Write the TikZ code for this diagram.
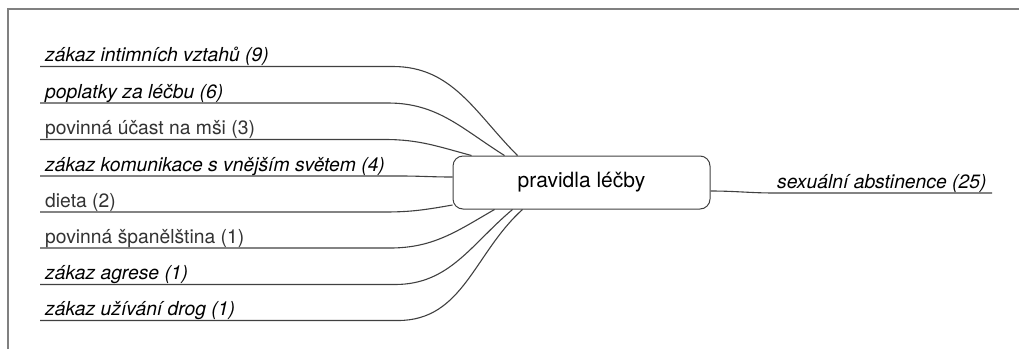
\documentclass[tikz,border=0pt]{standalone}
\usepackage{fontspec}
\setmainfont{TeX Gyre Heros}
\begin{document}
\begin{tikzpicture}[x=1pt,y=-1pt,
  lbl/.style={anchor=base west,inner sep=0pt,font=\fontsize{19.3}{22}\selectfont},
  lblit/.style={lbl,font=\fontsize{19.3}{22}\selectfont\itshape,text=black},
  lblrg/.style={lbl,text=black!80},
  link/.style={line width=1.1pt,draw=black!75},
  rootbox/.style={draw=black!75,line width=1pt,rounded corners=10pt,minimum width=257pt,minimum height=53pt,inner sep=0pt,font=\fontsize{21}{24}\selectfont},
  frame/.style={draw=black!50,line width=2pt}]
\useasboundingbox (0,0) rectangle (1019,349);
\draw[frame] (8,349) -- (8,9) -- (1019,9);
\node[rootbox] (root) at (581.5,182.5) {pravidla léčby};
% left branches
\node[lblit] (b1) at (45,61) {zákaz intimních vztahů (9)};
\node[lblit] (b2) at (45,98) {poplatky za léčbu (6)};
\node[lblrg] (b3) at (45,134) {povinná účast na mši (3)};
\node[lblit] (b4) at (45,171) {zákaz komunikace s vnějším světem (4)};
\node[lblrg] (b5) at (45,207) {dieta (2)};
\node[lblrg] (b6) at (45,243) {povinná španělština (1)};
\node[lblit] (b7) at (45,279) {zákaz agrese (1)};
\node[lblit] (b8) at (45,315) {zákaz užívání drog (1)};
\coordinate (s1) at (40,66.5);  \coordinate (k1) at (393,66.5);
\coordinate (s2) at (40,103);   \coordinate (k2) at (388,103);
\coordinate (s3) at (40,139.5); \coordinate (k3) at (385,139.5);
\coordinate (s4) at (40,176);   \coordinate (k4) at (400,176);
\coordinate (s5) at (40,212);   \coordinate (k5) at (385,212);
\coordinate (s6) at (40,248);   \coordinate (k6) at (390,248);
\coordinate (s7) at (40,284.5); \coordinate (k7) at (395,284.5);
\coordinate (s8) at (40,320.5); \coordinate (k8) at (398,320.5);
\draw[link] (s1) -- (k1) to[out=0,in=135] ([xshift=65pt]root.north west);
\draw[link] (s2) -- (k2) to[out=0,in=148] ([xshift=52pt]root.north west);
\draw[link] (s3) -- (k3) to[out=0,in=165] ([xshift=19pt]root.north west);
\draw[link] (s4) -- (k4) to[out=0,in=180] ([yshift=5.5pt]root.west);
\draw[link] (s5) -- (k5) to[out=0,in=190] ([yshift=-22.5pt]root.west);
\draw[link] (s6) -- (k6) to[out=0,in=210] ([xshift=42pt]root.south west);
\draw[link] (s7) -- (k7) to[out=0,in=220] ([xshift=60pt]root.south west);
\draw[link] (s8) -- (k8) to[out=0,in=222] ([xshift=70pt]root.south west);
% right branch
\node[lblit] (r1) at (777,188) {sexuální abstinence (25)};
\coordinate (rk) at (775,193);
\coordinate (re) at (992,193);
\draw[link] ([yshift=-8.5pt]root.east) to[out=0,in=180] (rk) -- (re);
\end{tikzpicture}
\end{document}
